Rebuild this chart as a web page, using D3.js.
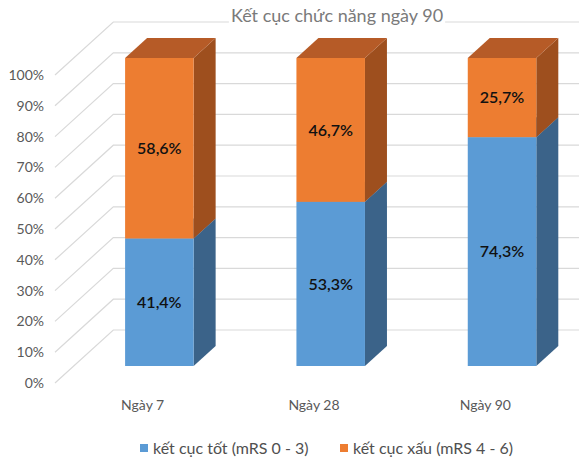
<!DOCTYPE html>
<html>
<head>
<meta charset="utf-8">
<script src="https://cdn.jsdelivr.net/npm/d3@7"></script>
<style>
  html, body { margin: 0; padding: 0; background: #fff; }
  svg { display: block; font-family: Lato, "Open Sans", sans-serif; }
</style>
</head>
<body>
<div id="chart"></div>
<script>
// Data
const categories = ['Ngày 7', 'Ngày 28', 'Ngày 90'];
const seriesNames = ['kết cục tốt (mRS 0 - 3)', 'kết cục xấu (mRS 4 - 6)'];
const goodValues = [41.4, 53.3, 74.3];
const badValues = [58.6, 46.7, 25.7];
const yTicks = [0, 10, 20, 30, 40, 50, 60, 70, 80, 90, 100];
const chartTitle = 'Kết cục chức năng ngày 90';

const width = 579;
const height = 459;

// colours: front, side, top
const palette = [
  { front: '#5b9bd5', side: '#3b6389', top: '#4a80b1' },
  { front: '#ed7d31', side: '#9e4f1e', top: '#b65b27' }
];

// oblique 3D: depth d moves up by d and right by k*d
const k = 1.1;
const barFront = 17, barBack = 37, wallDepth = 53;
const proj = (x, y, d) => [x + k * d, y - d];

const x = d3.scaleBand().domain(categories).range([55, 569]).padding(0);
const y = d3.scaleLinear().domain([0, 100]).range([383, 75]);
const barW = x.bandwidth() * 0.4;

const svg = d3.select('#chart').append('svg')
  .attr('width', width)
  .attr('height', height)
  .attr('viewBox', `0 0 ${width} ${height}`);

// gridlines: slanted piece on the floor side + horizontal on back wall
const grid = svg.append('g');
yTicks.forEach(t => {
  const p0 = [x.range()[0], y(t)];
  const p1 = proj(x.range()[0], y(t), wallDepth);
  const p2 = proj(x.range()[1], y(t), wallDepth);
  grid.append('path')
    .attr('d', d3.line()([p0, p1, p2]))
    .attr('fill', 'none')
    .attr('stroke', '#d9d9d9')
    .attr('stroke-width', 1.2);
});

// y tick labels
svg.append('g').selectAll('text')
  .data(yTicks)
  .enter()
  .append('text')
  .attr('x', 44)
  .attr('y', d => y(d))
  .attr('dy', '0.35em')
  .attr('text-anchor', 'end')
  .attr('font-size', '14px')
  .attr('fill', '#595959')
  .text(d => d + '%');

// stacked bars
const stack = categories.map((c, i) => {
  const vals = [goodValues[i], badValues[i]];
  let acc = 0;
  return vals.map((v, s) => {
    const seg = { cat: c, s: s, v: v, y0: acc, y1: acc + v };
    acc += v;
    return seg;
  });
});

const bars = svg.append('g');
stack.forEach(segs => {
  segs.forEach(seg => {
    const xl = x(seg.cat) + (x.bandwidth() - barW) / 2;
    const xr = xl + barW;
    const yb = y(seg.y0), yt = y(seg.y1);
    const col = palette[seg.s];
    const g = bars.append('g');
    // side face
    g.append('path')
      .attr('d', d3.line()([proj(xr, yb, barFront), proj(xr, yb, barBack), proj(xr, yt, barBack), proj(xr, yt, barFront)]) + 'Z')
      .attr('fill', col.side);
    // top face
    g.append('path')
      .attr('d', d3.line()([proj(xl, yt, barFront), proj(xr, yt, barFront), proj(xr, yt, barBack), proj(xl, yt, barBack)]) + 'Z')
      .attr('fill', col.top);
    // front face
    const f0 = proj(xl, yt, barFront);
    g.append('rect')
      .attr('x', f0[0])
      .attr('y', f0[1])
      .attr('width', barW)
      .attr('height', yb - yt)
      .attr('fill', col.front);
    // value label
    g.append('text')
      .attr('x', f0[0] + barW / 2)
      .attr('y', proj(xl, (yb + yt) / 2, barFront)[1])
      .attr('dy', '0.35em')
      .attr('text-anchor', 'middle')
      .attr('font-size', '16px')
      .attr('font-weight', 600)
      .attr('fill', '#111')
      .text(seg.v.toFixed(1).replace('.', ',') + '%');
  });
});

// category labels
svg.append('g').selectAll('text')
  .data(categories)
  .enter()
  .append('text')
  .attr('x', d => x(d) + x.bandwidth() / 2 + 2)
  .attr('y', 405)
  .attr('dy', '0.35em')
  .attr('text-anchor', 'middle')
  .attr('font-size', '14px')
  .attr('fill', '#595959')
  .text(d => d);

// title with white box hiding the top gridline
const title = svg.append('g');
const titleBg = title.append('rect').attr('fill', '#fff');
const titleText = title.append('text')
  .attr('x', 337)
  .attr('y', 22)
  .attr('text-anchor', 'middle')
  .attr('font-size', '18px')
  .attr('fill', '#7a7a7a')
  .text(chartTitle);
const tb = titleText.node().getBBox();
titleBg.attr('x', tb.x - 2).attr('y', tb.y).attr('width', tb.width + 4).attr('height', tb.height);

// legend
const legendX = [140, 340];
const legend = svg.append('g');
seriesNames.forEach((name, i) => {
  legend.append('rect')
    .attr('x', legendX[i])
    .attr('y', 444)
    .attr('width', 8)
    .attr('height', 8)
    .attr('fill', palette[i].front);
  legend.append('text')
    .attr('x', legendX[i] + 13)
    .attr('y', 448)
    .attr('dy', '0.35em')
    .attr('font-size', '16px')
    .attr('fill', '#505050')
    .text(name);
});
</script>
</body>
</html>
